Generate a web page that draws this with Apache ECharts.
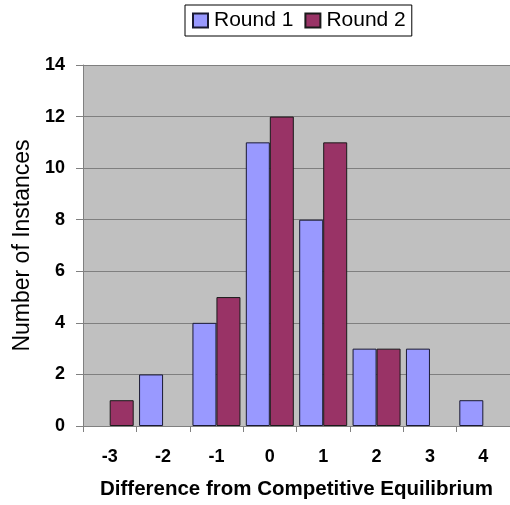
<!DOCTYPE html>
<html>
<head>
<meta charset="utf-8">
<script src="https://cdn.jsdelivr.net/npm/echarts@6/dist/echarts.min.js"></script>
<style>
  html, body { margin: 0; padding: 0; background: #fff; }
  #chart { width: 510px; height: 505px; }
</style>
</head>
<body>
<div id="chart"></div>
<script>
// Distribution of outcomes relative to the competitive equilibrium
const categories = ['-3', '-2', '-1', '0', '1', '2', '3', '4'];
const round1 = [0, 2, 4, 11, 8, 3, 3, 1];
const round2 = [1, 0, 5, 12, 11, 3, 0, 0];
const yTicks = { min: 0, max: 14, interval: 2 };

// empty bins get no bar (avoids a flat outline on the baseline)
const asBars = (arr) => arr.map(v => (v === 0 ? '-' : v));

const font = 'Liberation Sans, Arial, sans-serif';
const chart = echarts.init(document.getElementById('chart'), null, { renderer: 'canvas' });

chart.setOption({
  animation: false,
  backgroundColor: '#ffffff',
  legend: {
    left: 185,
    top: 5,
    padding: [5, 6, 5, 7],
    borderColor: '#000',
    borderWidth: 1,
    itemWidth: 15,
    itemHeight: 14,
    itemGap: 11,
    icon: 'rect',
    textStyle: { fontFamily: font, fontSize: 21, color: '#000', padding: [0, 0, 0, 1] },
    data: ['Round 1', 'Round 2']
  },
  grid: {
    left: 83,
    top: 65,
    width: 434,
    bottom: 75.5,
    show: true,
    backgroundColor: '#c0c0c0',
    borderWidth: 0
  },
  xAxis: {
    type: 'category',
    data: categories,
    boundaryGap: true,
    name: 'Difference from Competitive Equilibrium',
    nameLocation: 'middle',
    nameGap: 53,
    nameTextStyle: { fontFamily: font, fontSize: 20.5, fontWeight: 'bold', color: '#000' },
    axisLine: { lineStyle: { color: '#808080', width: 1 } },
    axisTick: { show: true, alignWithLabel: false, length: 6, lineStyle: { color: '#808080' } },
    axisLabel: { fontFamily: font, fontSize: 18, fontWeight: 'bold', color: '#000', margin: 22 },
    splitLine: { show: false }
  },
  yAxis: {
    type: 'value',
    min: yTicks.min,
    max: yTicks.max,
    interval: yTicks.interval,
    name: 'Number of Instances',
    nameLocation: 'middle',
    nameGap: 49,
    nameRotate: 90,
    nameTextStyle: { fontFamily: font, fontSize: 23, color: '#000' },
    axisLine: { show: true, lineStyle: { color: '#808080', width: 1 } },
    axisTick: { show: true, inside: false, length: 7, lineStyle: { color: '#808080' } },
    axisLabel: { fontFamily: font, fontSize: 18, fontWeight: 'bold', color: '#000', margin: 18 },
    splitLine: { show: true, lineStyle: { color: '#7f7f7f', width: 1 } }
  },
  series: [
    {
      name: 'Round 1',
      type: 'bar',
      data: asBars(round1),
      barWidth: 24,
      barGap: '0%',
      itemStyle: { color: '#9999ff', borderColor: '#1a1a33', borderWidth: 1 }
    },
    {
      name: 'Round 2',
      type: 'bar',
      data: asBars(round2),
      barWidth: 24,
      barGap: '0%',
      itemStyle: { color: '#993366', borderColor: '#1a1a1a', borderWidth: 1 }
    }
  ]
});
</script>
</body>
</html>
